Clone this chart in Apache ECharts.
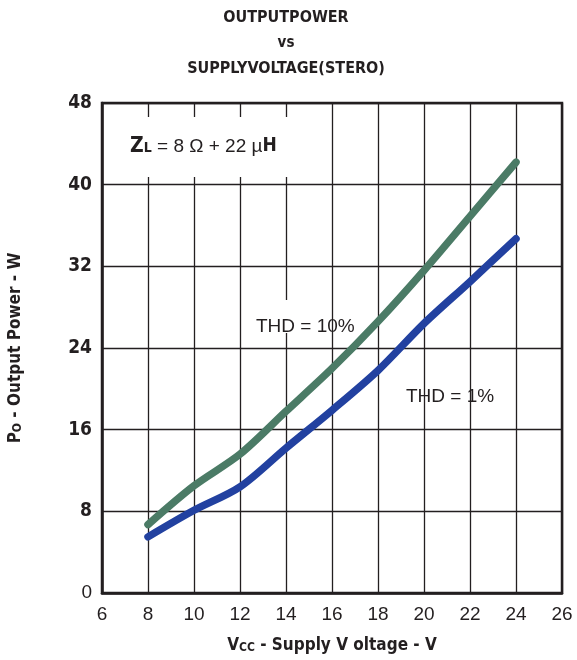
<!DOCTYPE html>
<html>
<head>
<meta charset="utf-8">
<script src="https://cdn.jsdelivr.net/npm/echarts@6/dist/echarts.min.js"></script>
<style>
html,body{margin:0;padding:0;background:#fff;}
#chart{width:577px;height:660px;}
</style>
</head>
<body>
<div id="chart"></div>
<script>
const supplyVoltage = [8, 10, 12, 14, 16, 18, 20, 22, 24];
const thd10 = [6.7, 10.5, 13.6, 17.8, 22.0, 26.6, 31.6, 36.9, 42.2];
const thd1 = [5.5, 8.1, 10.4, 14.2, 17.9, 21.8, 26.4, 30.5, 34.7];
const xTicks = { min: 6, max: 26, interval: 2 };
const yTicks = { min: 0, max: 48, interval: 8 };
const titleLines = ['OUTPUTPOWER', 'vs', 'SUPPLYVOLTAGE(STERO)'];

const ink = '#231f20';
const condensed = '"Liberation Sans Narrow", "DejaVu Sans Condensed", "Liberation Sans", sans-serif';
const regular = '"Liberation Sans", Arial, sans-serif';
const titleY = [10, 36, 61];

const chart = echarts.init(document.getElementById('chart'));
chart.setOption({
  animation: false,
  backgroundColor: '#fff',
  grid: {
    left: 102, right: 15, top: 103, bottom: 67,
    containLabel: false, outerBoundsMode: 'none',
    show: true, borderColor: ink, borderWidth: 2.5, backgroundColor: 'transparent'
  },
  xAxis: {
    type: 'value', min: xTicks.min, max: xTicks.max, interval: xTicks.interval,
    axisLine: { show: true, lineStyle: { color: ink, width: 2.5 } },
    axisTick: { show: false },
    splitLine: { show: true, lineStyle: { color: ink, width: 1.3 } },
    axisLabel: { color: ink, fontFamily: regular, fontSize: 19, margin: 12 },
    name: '{b|V}{s|CC}{b| - Supply V oltage - V}',
    nameLocation: 'middle', nameGap: 44,
    nameTextStyle: {
      rich: {
        b: { fontFamily: condensed, fontWeight: 'bold', fontSize: 17, color: ink, padding: [0, 0, 4, 0] },
        s: { fontFamily: condensed, fontWeight: 'bold', fontSize: 12, color: ink }
      }
    }
  },
  yAxis: {
    type: 'value', min: yTicks.min, max: yTicks.max, interval: yTicks.interval,
    axisLine: { show: true, lineStyle: { color: ink, width: 2.5 } },
    axisTick: { show: false },
    splitLine: { show: true, lineStyle: { color: ink, width: 1.3 } },
    axisLabel: {
      margin: 10,
      formatter: v => v === 0 ? '{r|0}' : '{b|' + v + '}',
      rich: {
        b: { fontFamily: condensed, fontWeight: 'bold', fontSize: 19, color: ink },
        r: { fontFamily: regular, fontSize: 19, color: ink }
      }
    },
    name: '{b|P}{s|O}{b| - Output Power - W}',
    nameLocation: 'middle', nameGap: 74,
    nameTextStyle: {
      rich: {
        b: { fontFamily: condensed, fontWeight: 'bold', fontSize: 17, color: ink, padding: [0, 0, 4, 0] },
        s: { fontFamily: condensed, fontWeight: 'bold', fontSize: 12, color: ink }
      }
    }
  },
  series: [
    {
      name: 'THD = 10%', type: 'line', smooth: 0.3, symbol: 'none', z: 5,
      data: supplyVoltage.map((v, i) => [v, thd10[i]]),
      lineStyle: { color: '#4b7b66', width: 7.5, cap: 'round', join: 'round' }
    },
    {
      name: 'THD = 1%', type: 'line', smooth: 0.3, symbol: 'none', z: 5,
      data: supplyVoltage.map((v, i) => [v, thd1[i]]),
      lineStyle: { color: '#2241a0', width: 7.5, cap: 'round', join: 'round' }
    }
  ],
  graphic: titleLines.map((t, i) => ({
    type: 'text', z: 20, x: 286, y: titleY[i],
    style: { text: t, fill: ink, font: 'bold ' + (i === 1 ? 15 : 16) + 'px ' + condensed, textAlign: 'center' }
  })).concat([
    { type: 'rect', z: 10, shape: { x: 115, y: 117, width: 178, height: 60 }, style: { fill: '#fff' } },
    { type: 'rect', z: 10, shape: { x: 262, y: 300, width: 34, height: 33 }, style: { fill: '#fff' } },
    { type: 'text', z: 20, x: 130, y: 136, style: {
        text: '{z|Z}{l|L}{t| = 8 Ω + 22 µ}{h|H}',
        rich: {
          z: { font: 'bold 21px ' + condensed, fill: ink, padding: [0, 0, 4, 0] },
          l: { font: 'bold 14px ' + condensed, fill: ink },
          t: { font: '19px ' + regular, fill: ink, padding: [0, 0, 4, 0] },
          h: { font: 'bold 19px ' + condensed, fill: ink, padding: [0, 0, 4, 0] }
        } } },
    { type: 'text', z: 20, x: 256, y: 317, style: { text: 'THD = 10%', fill: ink, font: '19px ' + regular } },
    { type: 'text', z: 20, x: 406, y: 387, style: { text: 'THD = 1%', fill: ink, font: '19px ' + regular } }
  ])
});
</script>
</body>
</html>
